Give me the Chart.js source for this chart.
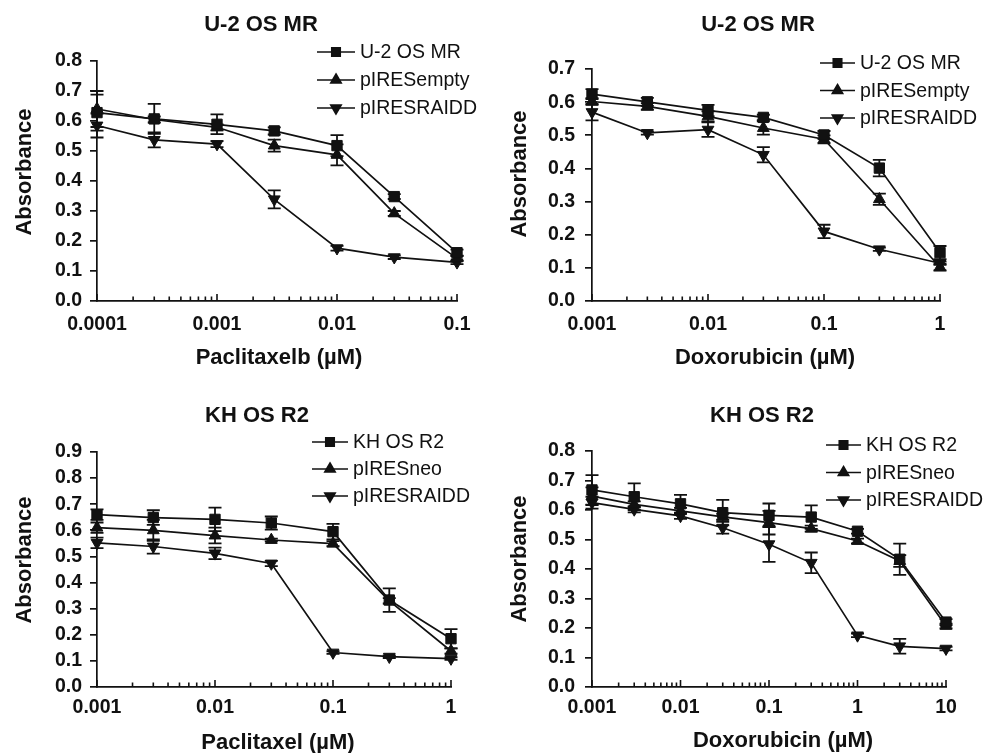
<!DOCTYPE html>
<html>
<head>
<meta charset="utf-8">
<script src="https://cdn.jsdelivr.net/npm/chart.js@4.4.1/dist/chart.umd.min.js"></script>
<style>
html, body { margin: 0; padding: 0; background: #fff; }
#wrap { position: relative; width: 986px; height: 753px; overflow: hidden; }
.panel { position: absolute; }
</style>
</head>
<body>
<div id="wrap">
  <div class="panel" style="left:0;top:0;width:493px;height:376px"><canvas id="c1"></canvas></div>
  <div class="panel" style="left:493px;top:0;width:493px;height:376px"><canvas id="c2"></canvas></div>
  <div class="panel" style="left:0;top:376px;width:493px;height:377px"><canvas id="c3"></canvas></div>
  <div class="panel" style="left:493px;top:376px;width:493px;height:377px"><canvas id="c4"></canvas></div>
</div>
<script>
// ---- Data ----
// Top left: U-2 OS MR, paclitaxel
const doseA = [0.0001, 0.0003, 0.001, 0.003, 0.01, 0.03, 0.1];
const decadesA = [0.0001, 0.001, 0.01, 0.1];
const tickLabelsA = ['0.0001', '0.001', '0.01', '0.1'];
const u2osA = [0.628, 0.607, 0.589, 0.567, 0.518, 0.348, 0.161];
const emptyA = [0.640, 0.605, 0.579, 0.518, 0.487, 0.292, 0.142];
const raiddA = [0.585, 0.537, 0.523, 0.339, 0.176, 0.146, 0.129];
const u2osErrA = [0.060, 0.050, 0.033, 0.012, 0.035, 0.008, 0.010];
const emptyErrA = [0.060, 0.010, 0.010, 0.020, 0.035, 0.008, 0.008];
const raiddErrA = [0.040, 0.025, 0.010, 0.030, 0.008, 0.006, 0.006];

// Top right: U-2 OS MR, doxorubicin
const doseB = [0.001, 0.003, 0.01, 0.03, 0.1, 0.3, 1];
const decadesB = [0.001, 0.01, 0.1, 1];
const tickLabelsB = ['0.001', '0.01', '0.1', '1'];
const u2osB = [0.624, 0.601, 0.575, 0.554, 0.501, 0.401, 0.146];
const emptyB = [0.602, 0.587, 0.557, 0.522, 0.488, 0.307, 0.102];
const raiddB = [0.570, 0.507, 0.517, 0.441, 0.210, 0.156, 0.114];
const u2osErrB = [0.015, 0.012, 0.017, 0.008, 0.012, 0.025, 0.020];
const emptyErrB = [0.010, 0.010, 0.015, 0.020, 0.012, 0.017, 0.010];
const raiddErrB = [0.025, 0.005, 0.022, 0.023, 0.020, 0.005, 0.005];

// Bottom left: KH OS R2, paclitaxel
const doseC = [0.001, 0.003, 0.01, 0.03, 0.1, 0.3, 1];
const decadesC = [0.001, 0.01, 0.1, 1];
const tickLabelsC = ['0.001', '0.01', '0.1', '1'];
const khosC = [0.660, 0.649, 0.642, 0.628, 0.595, 0.333, 0.185];
const neoC = [0.610, 0.600, 0.580, 0.563, 0.549, 0.330, 0.138];
const raiddC = [0.552, 0.538, 0.512, 0.473, 0.132, 0.116, 0.109];
const khosErrC = [0.020, 0.028, 0.045, 0.025, 0.030, 0.045, 0.037];
const neoErrC = [0.020, 0.040, 0.030, 0.005, 0.010, 0.010, 0.010];
const raiddErrC = [0.020, 0.027, 0.022, 0.010, 0.005, 0.005, 0.005];

// Bottom right: KH OS R2, doxorubicin
const doseD = [0.001, 0.003, 0.01, 0.03, 0.1, 0.3, 1, 3, 10];
const decadesD = [0.001, 0.01, 0.1, 1, 10];
const tickLabelsD = ['0.001', '0.01', '0.1', '1', '10'];
const khosD = [0.668, 0.645, 0.621, 0.591, 0.582, 0.576, 0.528, 0.433, 0.220];
const neoD = [0.647, 0.619, 0.597, 0.577, 0.557, 0.537, 0.495, 0.427, 0.207];
const raiddD = [0.625, 0.602, 0.580, 0.540, 0.484, 0.421, 0.175, 0.138, 0.130];
const khosErrD = [0.050, 0.045, 0.030, 0.043, 0.040, 0.040, 0.008, 0.053, 0.010];
const neoErrD = [0.030, 0.010, 0.010, 0.010, 0.040, 0.010, 0.008, 0.020, 0.008];
const raiddErrD = [0.020, 0.010, 0.010, 0.020, 0.060, 0.035, 0.006, 0.025, 0.006];

const INK = '#111';
const FONT = '"Liberation Sans", Arial, Helvetica, sans-serif';

// error bars drawn under the markers
const errorBars = {
  id: 'errorBars',
  beforeDatasetsDraw(chart) {
    const { ctx, scales: { x, y } } = chart;
    ctx.save();
    ctx.strokeStyle = INK;
    ctx.lineWidth = 1.8;
    chart.data.datasets.forEach(ds => {
      ds.errors.forEach((e, j) => {
        const p = ds.data[j];
        const px = x.getPixelForValue(p.x);
        const top = y.getPixelForValue(p.y + e), bot = y.getPixelForValue(p.y - e);
        ctx.beginPath();
        ctx.moveTo(px, top); ctx.lineTo(px, bot);
        ctx.moveTo(px - 6.5, top); ctx.lineTo(px + 6.5, top);
        ctx.moveTo(px - 6.5, bot); ctx.lineTo(px + 6.5, bot);
        ctx.stroke();
      });
    });
    ctx.restore();
  }
};

function marker(ctx, style, rotation, r, cx, cy) {
  if (Chart.helpers && Chart.helpers.drawPoint) {
    Chart.helpers.drawPoint(ctx, { pointStyle: style, rotation: rotation, radius: r, borderWidth: 1 }, cx, cy);
  }
}

// inward x ticks, titles and legend
const panelText = {
  id: 'panelText',
  afterDraw(chart, args, o) {
    const { ctx, chartArea } = chart;
    const x = chart.scales.x;
    ctx.save();
    ctx.strokeStyle = INK;
    ctx.fillStyle = INK;
    ctx.lineWidth = 1.6;
    x.ticks.forEach(t => {
      const px = x.getPixelForValue(t.value);
      ctx.beginPath();
      ctx.moveTo(px, chartArea.bottom);
      ctx.lineTo(px, chartArea.bottom - (t.major ? 7 : 4.5));
      ctx.stroke();
    });

    ctx.textAlign = 'center';
    ctx.textBaseline = 'middle';
    ctx.font = 'bold 22px ' + FONT;
    ctx.fillText(o.title, o.titleX, o.titleY);
    ctx.fillText(o.xTitle, o.xTitleX, o.xTitleY);
    ctx.save();
    ctx.translate(o.yTitleX, o.yTitleY);
    ctx.rotate(-Math.PI / 2);
    ctx.fillText('Absorbance', 0, 0);
    ctx.restore();

    ctx.textAlign = 'left';
    ctx.font = '19.5px ' + FONT;
    chart.data.datasets.forEach((ds, i) => {
      const ry = o.legY + i * o.legGap;
      ctx.beginPath();
      ctx.moveTo(o.legX, ry);
      ctx.lineTo(o.legX + o.legLen, ry);
      ctx.stroke();
      marker(ctx, ds.pointStyle, ds.pointRotation, 6, o.legX + o.legLen / 2, ry);
      ctx.fillText(ds.label, o.legX + o.legLen + 5, ry + 1);
    });
    ctx.restore();
  }
};

function decadeTicks(decades) {
  const out = [];
  decades.forEach((d, i) => {
    out.push({ value: d, major: true });
    if (i < decades.length - 1) {
      for (let m = 2; m <= 9; m++) out.push({ value: parseFloat((m * d).toPrecision(6)), major: false });
    }
  });
  return out;
}

function series(label, dose, vals, errs, style, rot, r) {
  return {
    label: label,
    data: dose.map((d, i) => ({ x: d, y: vals[i] })),
    errors: errs,
    borderColor: INK,
    backgroundColor: INK,
    borderWidth: 1.7,
    pointStyle: style,
    pointRotation: rot,
    pointRadius: r,
    pointBorderWidth: 1,
    tension: 0,
    clip: false
  };
}

function makePanel(id, p) {
  new Chart(document.getElementById(id), {
    type: 'line',
    data: {
      datasets: [
        series(p.names[0], p.dose, p.v[0], p.e[0], 'rect', 0, 7.3),
        series(p.names[1], p.dose, p.v[1], p.e[1], 'triangle', 0, 6.8),
        series(p.names[2], p.dose, p.v[2], p.e[2], 'triangle', 180, 6.8)
      ]
    },
    options: {
      responsive: true,
      maintainAspectRatio: false,
      animation: false,
      layout: { padding: { left: 0, top: p.top, right: p.right, bottom: 0 } },
      plugins: {
        legend: { display: false },
        tooltip: { enabled: false },
        panelText: p.text
      },
      scales: {
        x: {
          type: 'logarithmic',
          min: p.decades[0],
          max: p.decades[p.decades.length - 1],
          afterBuildTicks: s => { s.ticks = decadeTicks(p.decades); },
          afterFit: s => { s.height = p.xHeight; },
          grid: { display: false, drawTicks: false },
          border: { display: true, color: INK, width: 1.7 },
          ticks: {
            autoSkip: false,
            maxRotation: 0,
            padding: p.xPad,
            color: INK,
            font: { family: FONT, size: 19.5, weight: 'bold' },
            callback: v => {
              const k = p.decades.indexOf(v);
              return k >= 0 ? p.labels[k] : '';
            }
          }
        },
        y: {
          min: 0,
          max: p.yMax,
          afterFit: s => { s.width = p.left; },
          grid: { display: true, drawOnChartArea: false, drawTicks: true, tickLength: 7, color: INK, lineWidth: 1.7 },
          border: { display: true, color: INK, width: 1.7 },
          ticks: {
            stepSize: 0.1,
            autoSkip: false,
            padding: p.yPad,
            color: INK,
            font: { family: FONT, size: 19.5, weight: 'bold' },
            callback: v => v.toFixed(1)
          }
        }
      }
    },
    plugins: [errorBars, panelText]
  });
}

makePanel('c1', {
  dose: doseA, decades: decadesA, labels: tickLabelsA,
  names: ['U-2 OS MR', 'pIRESempty', 'pIRESRAIDD'],
  v: [u2osA, emptyA, raiddA], e: [u2osErrA, emptyErrA, raiddErrA],
  yMax: 0.8, left: 97, top: 61, right: 36, xHeight: 75, xPad: 12, yPad: 8,
  text: { title: 'U-2 OS MR', titleX: 261, titleY: 25, xTitle: 'Paclitaxelb (\u00b5M)', xTitleX: 279, xTitleY: 358,
          yTitleX: 25, yTitleY: 172, legX: 317, legLen: 38, legY: 52, legGap: 28 }
});
makePanel('c2', {
  dose: doseB, decades: decadesB, labels: tickLabelsB,
  names: ['U-2 OS MR', 'pIRESempty', 'pIRESRAIDD'],
  v: [u2osB, emptyB, raiddB], e: [u2osErrB, emptyErrB, raiddErrB],
  yMax: 0.7, left: 99, top: 69, right: 46, xHeight: 75, xPad: 12, yPad: 10,
  text: { title: 'U-2 OS MR', titleX: 265, titleY: 25, xTitle: 'Doxorubicin (\u00b5M)', xTitleX: 272, xTitleY: 358,
          yTitleX: 27, yTitleY: 174, legX: 327, legLen: 35, legY: 63, legGap: 27.5 }
});
makePanel('c3', {
  dose: doseC, decades: decadesC, labels: tickLabelsC,
  names: ['KH OS R2', 'pIRESneo', 'pIRESRAIDD'],
  v: [khosC, neoC, raiddC], e: [khosErrC, neoErrC, raiddErrC],
  yMax: 0.9, left: 97, top: 76, right: 42, xHeight: 66, xPad: 9, yPad: 8,
  text: { title: 'KH OS R2', titleX: 257, titleY: 40, xTitle: 'Paclitaxel (\u00b5M)', xTitleX: 278, xTitleY: 367,
          yTitleX: 25, yTitleY: 184, legX: 312, legLen: 36, legY: 66, legGap: 27 }
});
makePanel('c4', {
  dose: doseD, decades: decadesD, labels: tickLabelsD,
  names: ['KH OS R2', 'pIRESneo', 'pIRESRAIDD'],
  v: [khosD, neoD, raiddD], e: [khosErrD, neoErrD, raiddErrD],
  yMax: 0.8, left: 99, top: 75, right: 40, xHeight: 66, xPad: 9, yPad: 10,
  text: { title: 'KH OS R2', titleX: 269, titleY: 40, xTitle: 'Doxorubicin (\u00b5M)', xTitleX: 290, xTitleY: 365,
          yTitleX: 27, yTitleY: 183, legX: 333, legLen: 35, legY: 69, legGap: 27.5 }
});
</script>
</body>
</html>
